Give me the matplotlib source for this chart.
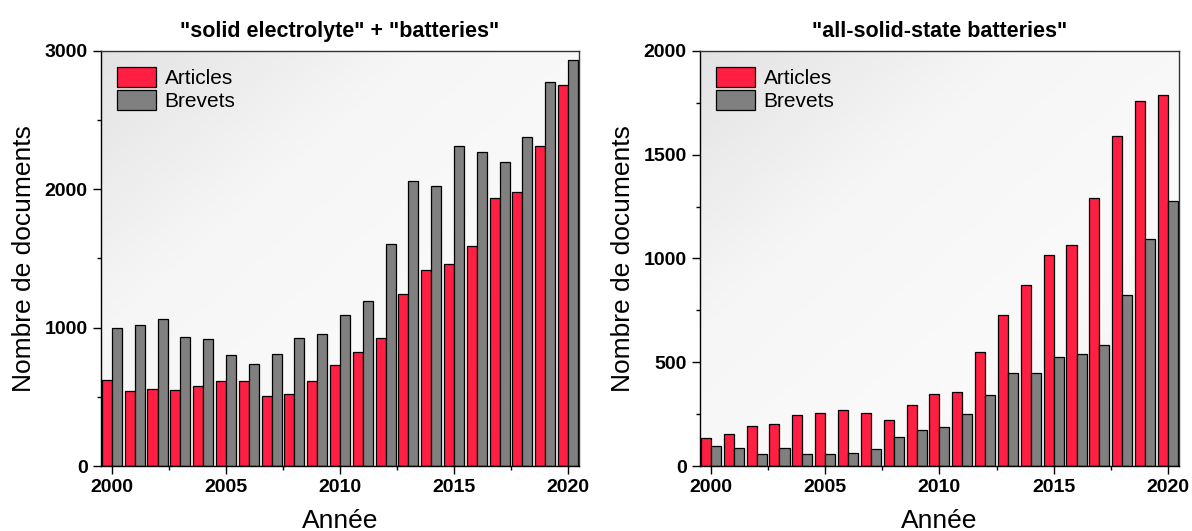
import numpy as np
import matplotlib.pyplot as plt
from matplotlib.colors import LinearSegmentedColormap

plt.rcParams['font.family'] = ['Liberation Sans', 'DejaVu Sans']

years = np.arange(2000, 2021)

# "solid electrolyte" + "batteries"
articles_se = [620, 545, 559, 550, 581, 613, 613, 509, 521, 613, 733,
               827, 926, 1242, 1420, 1461, 1587, 1939, 1978, 2313, 2754]
brevets_se = [998, 1020, 1066, 936, 919, 805, 740, 813, 928, 957, 1095,
              1196, 1604, 2059, 2026, 2313, 2272, 2197, 2380, 2773, 2935]

# "all-solid-state batteries"
articles_ass = [135, 156, 193, 204, 246, 254, 271, 255, 222, 292, 349,
                358, 551, 728, 870, 1017, 1063, 1293, 1590, 1759, 1789]
brevets_ass = [98, 87, 59, 87, 58, 59, 64, 80, 140, 175, 190,
               249, 344, 448, 448, 527, 541, 585, 822, 1095, 1275]

red = '#ff1f42'
grey = '#808080'
w = 0.44

fig = plt.figure(figsize=(11.92, 5.31), dpi=100)
ax1 = fig.add_axes([0.0847, 0.1224, 0.401, 0.7816])
ax2 = fig.add_axes([0.5872, 0.1224, 0.4018, 0.7816])

# fond en degrade diagonal (gris en haut a gauche)
gx, gy = np.meshgrid(np.linspace(0, 1, 200), np.linspace(0, 1, 200))
t = (gx + (1 - gy)) / 2
bg_cmap = LinearSegmentedColormap.from_list(
    'bg', ['#e3e3e3', '#f6f6f6', '#fafafa', '#f0f0f0'])

panels = [
    (ax1, articles_se, brevets_se, '"solid electrolyte" + "batteries"', 3000, 1000, 500),
    (ax2, articles_ass, brevets_ass, '"all-solid-state batteries"', 2000, 500, 250),
]

for ax, art, brev, title, ymax, major, minor in panels:
    ax.imshow(t, extent=[0, 1, 0, 1], origin='lower', transform=ax.transAxes,
              cmap=bg_cmap, aspect='auto', zorder=0)
    ax.bar(years - w / 2, art, width=w, color=red, edgecolor='black',
           linewidth=0.9, label='Articles', zorder=2)
    ax.bar(years + w / 2, brev, width=w, color=grey, edgecolor='black',
           linewidth=0.9, label='Brevets', zorder=2)
    ax.set_xlim(1999.52, 2020.48)
    ax.set_ylim(0, ymax)
    ax.set_xticks([2000, 2005, 2010, 2015, 2020])
    ax.set_xticks([2002.5, 2007.5, 2012.5, 2017.5], minor=True)
    ax.set_yticks(np.arange(0, ymax + 1, major))
    ax.set_yticks(np.arange(minor, ymax, major), minor=True)
    ax.tick_params(which='both', direction='out', width=1)
    ax.tick_params(which='major', length=6, labelsize=14)
    ax.tick_params(which='minor', length=3)
    for lab in ax.get_xticklabels() + ax.get_yticklabels():
        lab.set_fontweight('bold')
    for sp in ax.spines.values():
        sp.set_linewidth(1.0)
        sp.set_color('#333333')
    ax.spines['bottom'].set_color('black')
    ax.spines['left'].set_color('black')
    ax.set_title(title, fontsize=15.5, fontweight='bold', pad=10)
    ax.set_xlabel('Année', fontsize=19, labelpad=9)
    ax.set_ylabel('Nombre de documents', fontsize=19, labelpad=6)
    ax.legend(loc='upper left', fontsize=15, frameon=False,
              handlelength=1.9, handleheight=1.1, handletextpad=0.4,
              labelspacing=0.1, borderaxespad=0.35)

fig.savefig('out.png', dpi=100)
